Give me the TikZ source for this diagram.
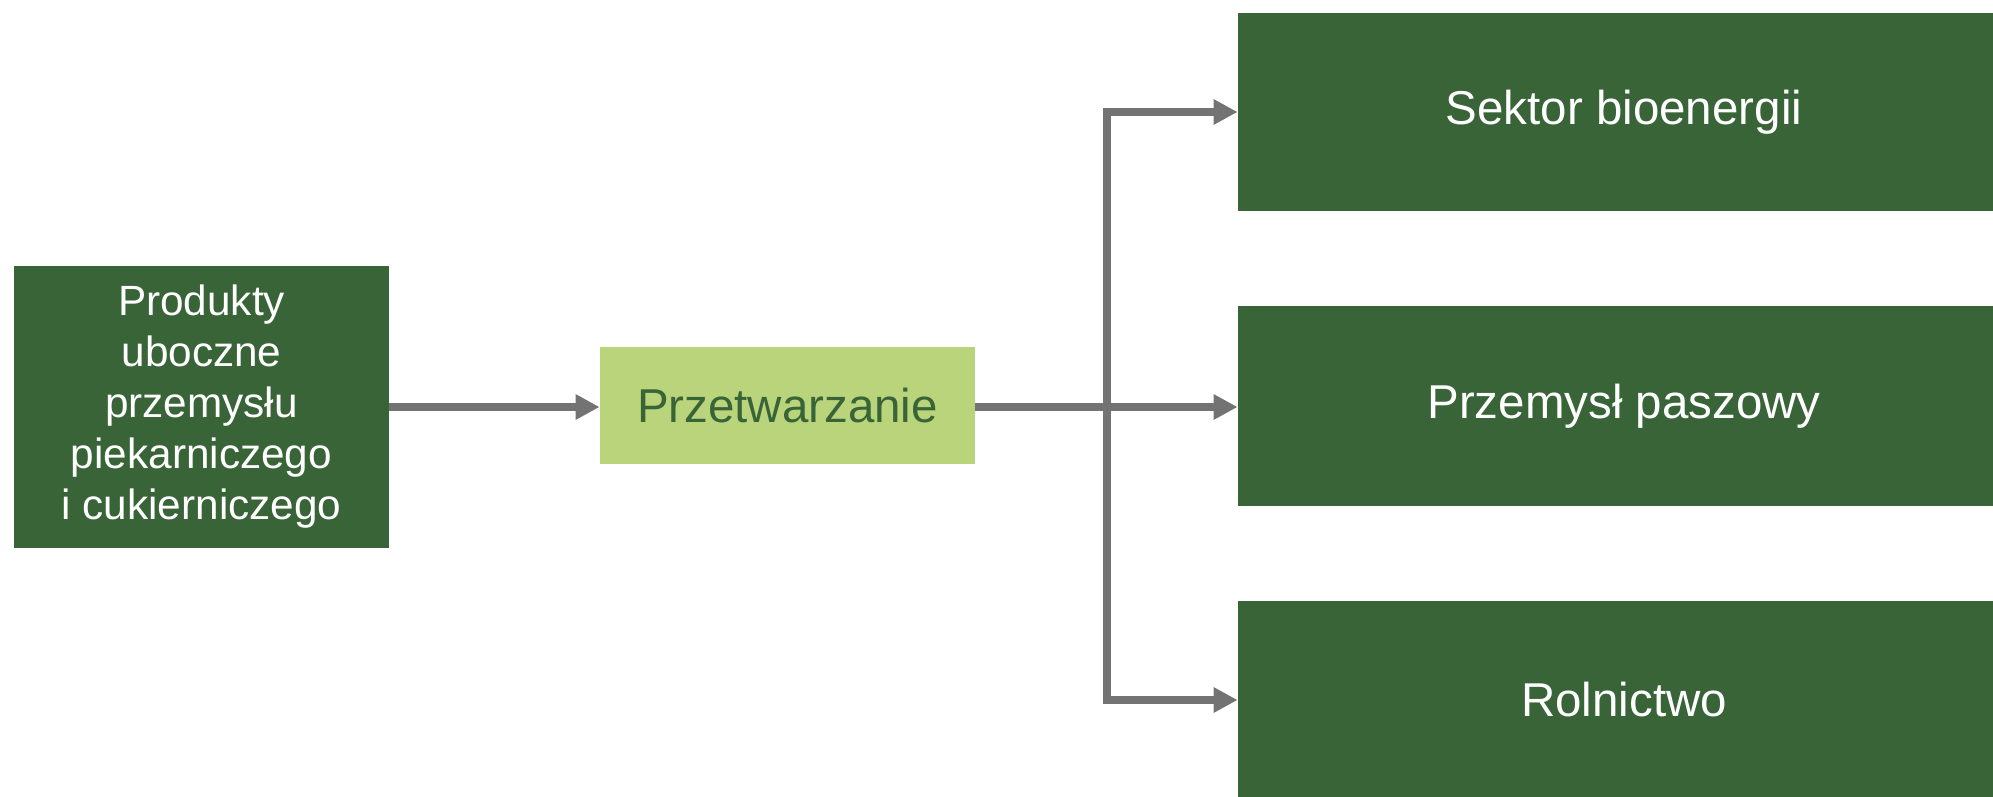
\documentclass[tikz,border=0pt]{standalone}
\usepackage{fontspec}
\setmainfont{Liberation Sans}
\usetikzlibrary{arrows.meta}
\definecolor{dg}{HTML}{386438}
\definecolor{lg}{HTML}{B9D47B}
\definecolor{ag}{HTML}{737373}
\begin{document}
\begin{tikzpicture}[x=0.5pt,y=-0.5pt,
  darkbox/.style={fill=dg, text=white, inner sep=0pt, align=center, font=\fontsize{23.75}{28.5}\selectfont},
  srcbox/.style={fill=dg, text=white, inner sep=0pt, align=center, font=\fontsize{21.15}{25.5}\selectfont},
  procbox/.style={fill=lg, text=dg, inner sep=0pt, align=center, font=\fontsize{23.75}{28.5}\selectfont},
  arr/.style={draw=ag, line width=4pt, -{Triangle[length=12pt,width=12pt]}}]
\useasboundingbox (0,0) rectangle (1993,797);
\clip (0,0) rectangle (1993,797);
\node[srcbox, minimum width=187.5pt, minimum height=141pt] (src) at (201.5,407) {Produkty\\uboczne\\przemysłu\\piekarniczego\\i cukierniczego};
\node[procbox, minimum width=187.5pt, minimum height=58.5pt] (proc) at (787.5,405.5) {Przetwarzanie};
\node[darkbox, minimum width=386pt, minimum height=99pt] (sek) at (1624,112) {Sektor bioenergii};
\node[darkbox, minimum width=386pt, minimum height=100pt] (pasz) at (1624,406) {Przemysł paszowy};
\node[darkbox, minimum width=386pt, minimum height=99pt] (rol) at (1624,700) {Rolnictwo};
\coordinate (jn) at (1107,407);
\draw[arr] (src.east) -- (src.east -| proc.west);
\draw[arr] (proc.east |- jn) -- (jn -| pasz.west);
\draw[arr] (jn) |- (sek.west);
\draw[arr] (jn) |- (rol.west);
\end{tikzpicture}
\end{document}
